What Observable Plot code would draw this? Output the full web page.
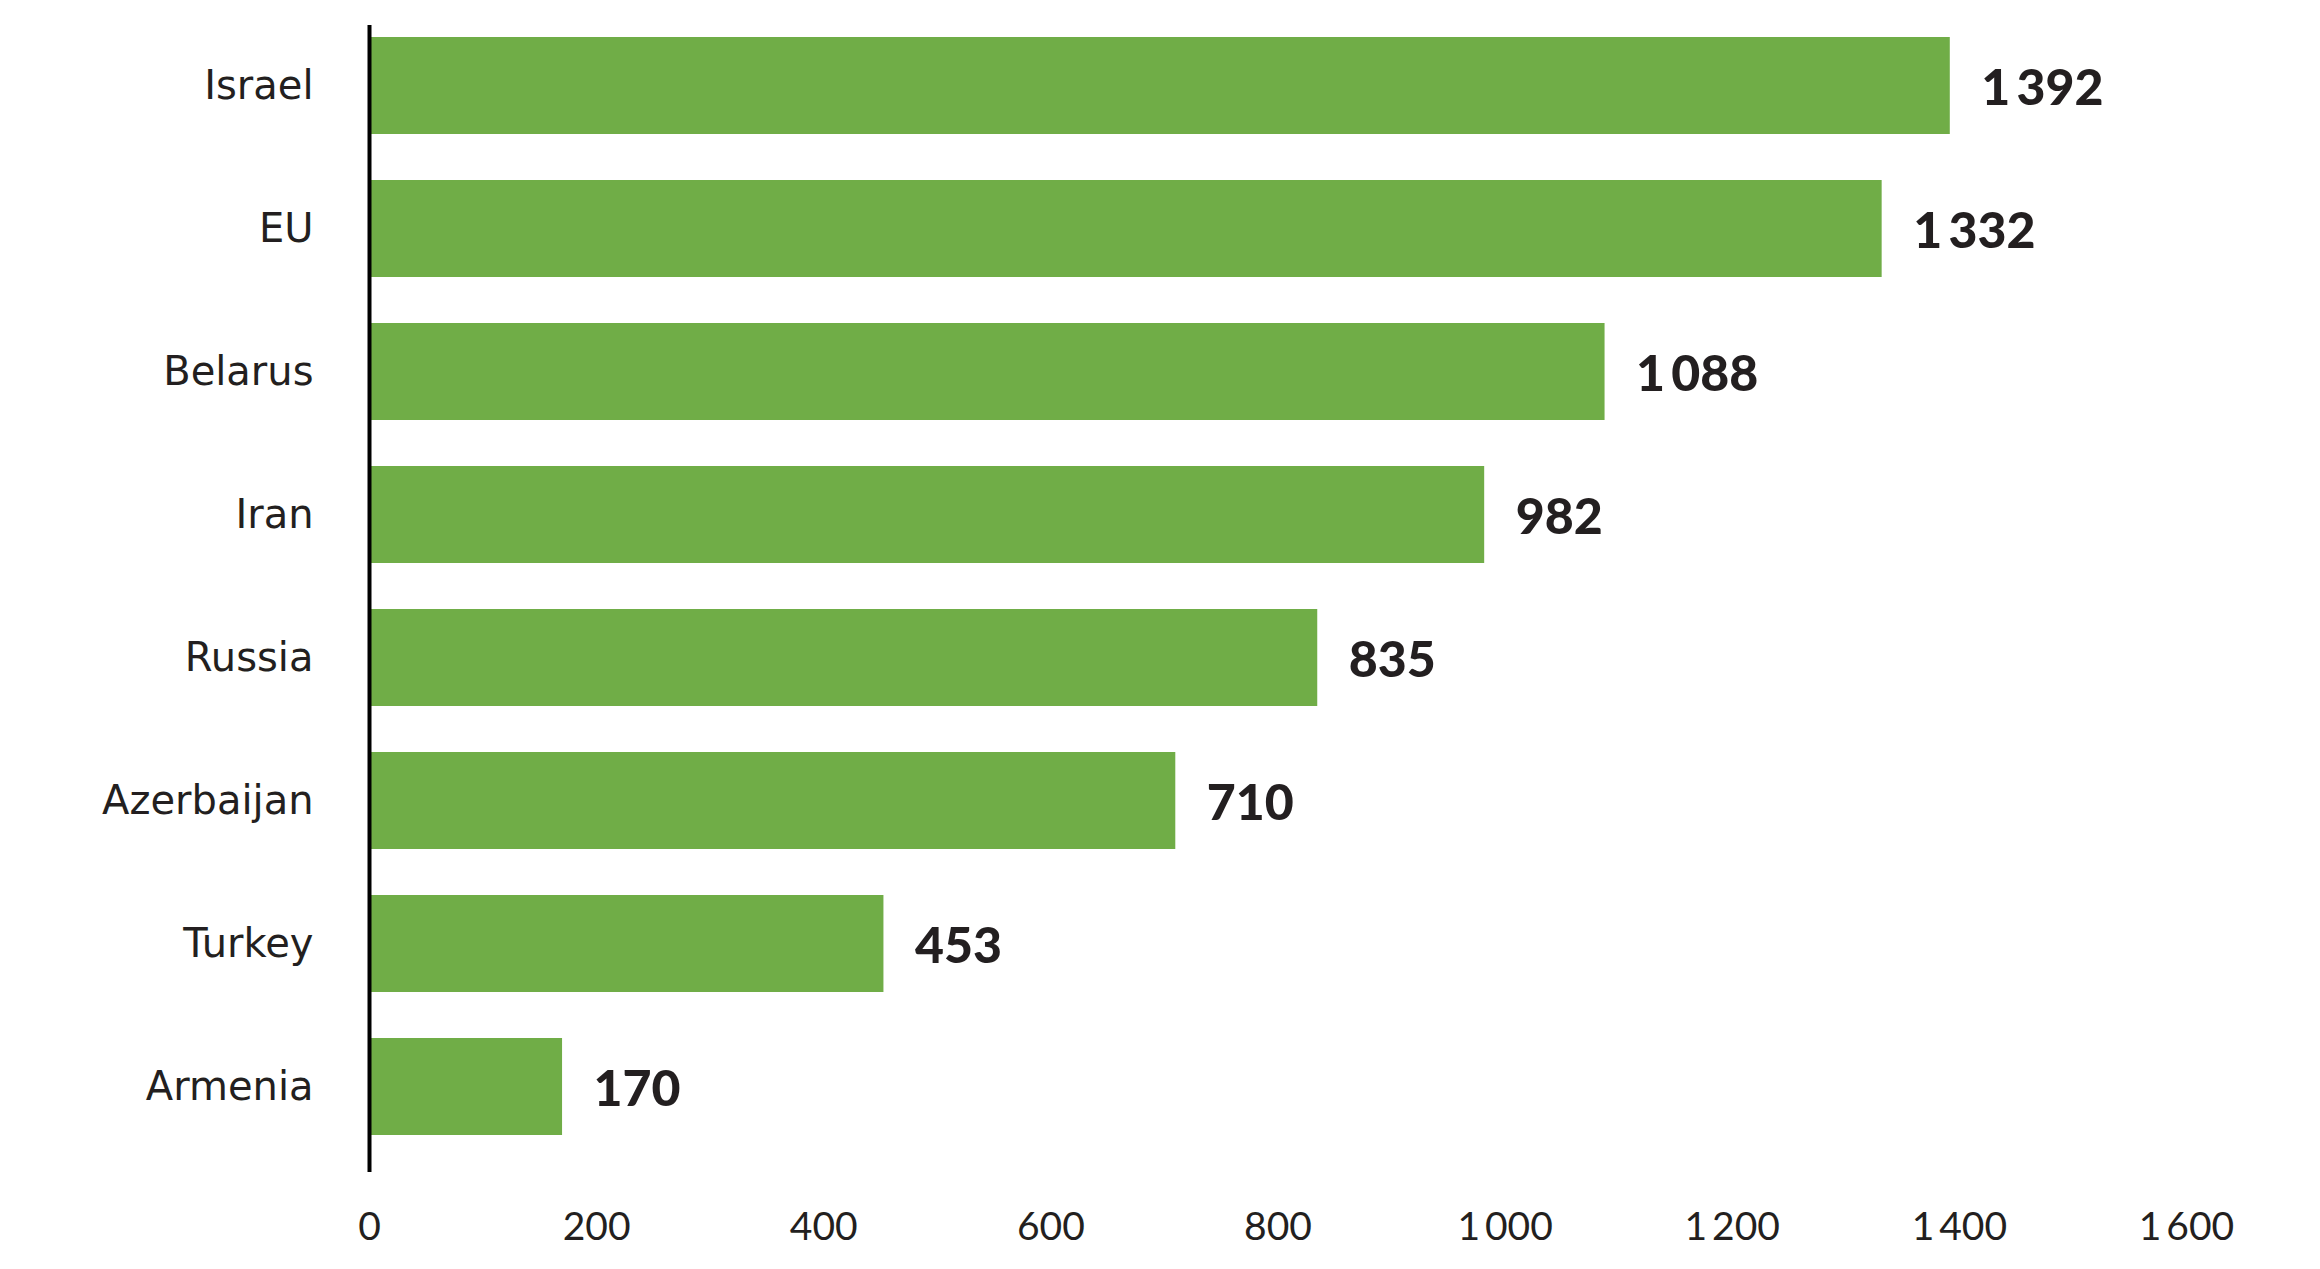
<!DOCTYPE html>
<html>
<head>
<meta charset="utf-8">
<script src="https://cdn.jsdelivr.net/npm/d3@7"></script>
<script src="https://cdn.jsdelivr.net/npm/@observablehq/plot@0.6"></script>
<style>
  html, body { margin: 0; padding: 0; background: #ffffff; }
  #chart svg { display: block; }
</style>
</head>
<body>
<div id="chart"></div>
<script>
const countries = ["Israel", "EU", "Belarus", "Iran", "Russia", "Azerbaijan", "Turkey", "Armenia"];
const values = [1392, 1332, 1088, 982, 835, 710, 453, 170];
const xTicks = [0, 200, 400, 600, 800, 1000, 1200, 1400, 1600];

const data = countries.map((c, i) => ({country: c, value: values[i]}));
const fmt = d3.formatLocale({decimal: ".", thousands: "\u2009", grouping: [3], currency: ["", ""]}).format(",d");

const green = "#70ad47";
const ink = "#231f20";

const chart = Plot.plot({
  width: 2320,
  height: 1269,
  marginLeft: 369,
  marginRight: 134,
  marginTop: 25,
  marginBottom: 97,
  style: {background: "#ffffff", color: ink},
  x: {domain: [0, 1600], ticks: xTicks, tickFormat: fmt},
  y: {domain: countries, paddingInner: 0.321, paddingOuter: 0.145, align: 0.251},
  marks: [
    Plot.barX(data, {x: "value", y: "country", fill: green}),
    Plot.text(data, {
      x: "value", y: "country", text: d => fmt(d.value),
      textAnchor: "start", dx: 31, dy: 3,
      fontSize: 50, fontWeight: 900, fontFamily: "Lato", fill: ink,
      letterSpacing: "-2px"
    }),
    Plot.ruleX([0], {stroke: "#000000", strokeWidth: 4}),
    Plot.axisX({
      ticks: xTicks, tickFormat: fmt, tickSize: 0, tickPadding: 40,
      fontSize: 39, fontFamily: "Lato", fill: ink, label: null
    }),
    Plot.axisY({
      tickSize: 0, tickPadding: 56, fontSize: 40, fontFamily: "DejaVu Sans", fill: ink, label: null
    })
  ]
});
document.getElementById("chart").appendChild(chart);
</script>
</body>
</html>
